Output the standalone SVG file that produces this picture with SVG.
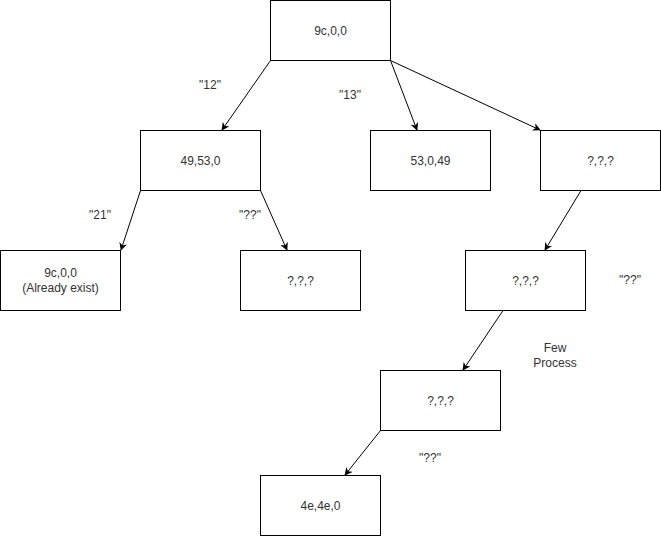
<svg xmlns="http://www.w3.org/2000/svg" width="661" height="536" viewBox="0 0 661 536">
<style>
.n{fill:#fff;stroke:#000;stroke-width:1}
text{font-family:"Liberation Sans",Arial,sans-serif;font-size:12px;fill:#333;text-anchor:middle;dominant-baseline:central}
.e{stroke:#000;stroke-width:1;fill:none;marker-end:url(#a)}
</style>
<defs>
<marker id="a" viewBox="0 0 10 10" refX="9" refY="5" markerWidth="8" markerHeight="8" markerUnits="userSpaceOnUse" orient="auto">
<path d="M0,0 L10,5 L0,10 L3,5 Z" fill="#000"/>
</marker>
</defs>
<rect width="661" height="536" fill="#fff"/>
<g id="connectors">
<line class="e" x1="270.5" y1="60.5" x2="222" y2="130"/>
<line class="e" x1="390.5" y1="60.5" x2="417" y2="130"/>
<line class="e" x1="390.5" y1="60.5" x2="540" y2="130"/>
<line class="e" x1="140.5" y1="190.5" x2="121" y2="250"/>
<line class="e" x1="260.5" y1="190.5" x2="287" y2="250"/>
<line class="e" x1="581" y1="190.5" x2="545" y2="250"/>
<line class="e" x1="503" y1="310.5" x2="463" y2="370"/>
<line class="e" x1="380.5" y1="430.5" x2="345" y2="475"/>
</g>
<g id="labels">
<text x="210" y="85">"12"</text>
<text x="350" y="95">"13"</text>
<text x="100" y="215">"21"</text>
<text x="250" y="215">"??"</text>
<text x="630" y="280">"??"</text>
<text x="555" y="348">Few</text>
<text x="555" y="363">Process</text>
<text x="430" y="458">"??"</text>
</g>
<g id="root"><rect class="n" x="270.5" y="0.5" width="120" height="60"/><text x="330.5" y="30.5">9c,0,0</text></g>
<g id="n495300"><rect class="n" x="140.5" y="130.5" width="120" height="60"/><text x="200.5" y="160.5">49,53,0</text></g>
<g id="n53049"><rect class="n" x="370.5" y="130.5" width="120" height="60"/><text x="430.5" y="160.5">53,0,49</text></g>
<g id="q1"><rect class="n" x="540.5" y="130.5" width="120" height="60"/><text x="600.5" y="160.5">?,?,?</text></g>
<g id="exist"><rect class="n" x="0.5" y="250.5" width="120" height="60"/><text x="60.5" y="273">9c,0,0</text><text x="60.5" y="288">(Already exist)</text></g>
<g id="q2"><rect class="n" x="240.5" y="250.5" width="120" height="60"/><text x="300.5" y="280.5">?,?,?</text></g>
<g id="q3"><rect class="n" x="465.5" y="250.5" width="120" height="60"/><text x="525.5" y="280.5">?,?,?</text></g>
<g id="q4"><rect class="n" x="380.5" y="370.5" width="120" height="60"/><text x="440.5" y="400.5">?,?,?</text></g>
<g id="final"><rect class="n" x="260.5" y="475.5" width="120" height="60"/><text x="320.5" y="505.5">4e,4e,0</text></g>
</svg>
